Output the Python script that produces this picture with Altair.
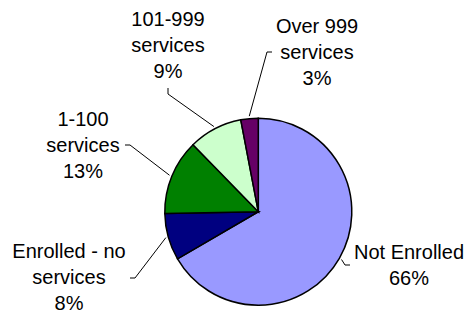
import math
import altair as alt
import pandas as pd

# ---- data ----
categories = ["Not Enrolled", "Enrolled - no services", "1-100 services",
              "101-999 services", "Over 999 services"]
shares = [66.6, 8.1, 13.0, 9.3, 3.0]
label_texts = ["Not Enrolled\n66%", "Enrolled - no\nservices\n8%", "1-100\nservices\n13%",
               "101-999\nservices\n9%", "Over 999\nservices\n3%"]
colors = ["#9999FF", "#000080", "#008000", "#CCFFCC", "#660066"]

# ---- layout (chart pixel space) ----
W, H = 457, 306
CX, CY, R = 250.3, 203.7, 93.5
R_LEAD = 96
label_x = [401, 61, 75, 160, 309]
label_y = [245, 244, 112, 12, 19]
elbow_x = [337, 127, 122, 160, 259]
elbow_y = [257, 270, 137, 86, 44]
end_x = [342, 122, 117, 160, 264]
end_y = [257, 270, 137, 80, 44]

pie_df = pd.DataFrame({"cat": categories, "val": shares, "order": range(len(categories))})

total = sum(shares)
rows = []
cum = 0.0
for i, (c, v) in enumerate(zip(categories, shares)):
    mid = (cum + v / 2) / total * 2 * math.pi
    cum += v
    sx = CX + R_LEAD * math.sin(mid)
    sy = CY - R_LEAD * math.cos(mid)
    rows.append({"cat": c, "k": 0, "x": sx, "y": sy})
    rows.append({"cat": c, "k": 1, "x": elbow_x[i], "y": elbow_y[i]})
    rows.append({"cat": c, "k": 2, "x": end_x[i], "y": end_y[i]})
lead_df = pd.DataFrame(rows)

lab_df = pd.DataFrame({"t": label_texts, "x": label_x, "y": label_y})

xs = alt.Scale(domain=[0, W], range=[0, W], nice=False, zero=False)
ys = alt.Scale(domain=[0, H], range=[0, H], nice=False, zero=False)

pie = alt.Chart(pie_df).mark_arc(
    outerRadius=R, stroke="black", strokeWidth=1.5
).encode(
    theta=alt.Theta("val:Q", stack=True),
    order=alt.Order("order:Q"),
    color=alt.Color("cat:N", scale=alt.Scale(domain=categories, range=colors), legend=None),
    x=alt.value(CX),
    y=alt.value(CY),
)

leaders = alt.Chart(lead_df).mark_line(color="black", strokeWidth=1).encode(
    x=alt.X("x:Q", scale=xs, axis=None),
    y=alt.Y("y:Q", scale=ys, axis=None),
    detail="cat:N",
    order="k:Q",
)

labels = alt.Chart(lab_df).mark_text(
    font="Liberation Sans", fontSize=20, lineHeight=26, align="center",
    baseline="middle", color="black", lineBreak="\n"
).encode(
    x=alt.X("x:Q", scale=xs, axis=None),
    y=alt.Y("y:Q", scale=ys, axis=None),
    text="t:N",
)

chart = alt.layer(pie, leaders, labels).properties(
    width=W, height=H, padding=0, autosize=alt.AutoSizeParams(type="none")
).configure_view(stroke=None).resolve_scale(x="shared", y="shared")

chart.save("out.html", embed_options={"renderer": "svg", "actions": False})
